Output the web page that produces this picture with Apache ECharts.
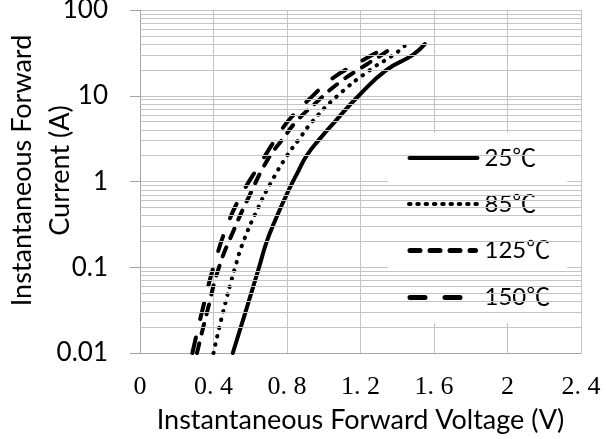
<!DOCTYPE html>
<html><head><meta charset="utf-8">
<script src="https://cdn.jsdelivr.net/npm/echarts@6/dist/echarts.min.js"></script>
<style>html,body{margin:0;padding:0;background:#fff}#c{width:606px;height:439px}</style>
</head><body><div id="c"></div><script>
// Series names (legend)
const seriesNames = ['25℃', '85℃', '125℃', '150℃'];
// 25℃ : forward voltage (V) and current (A)
const v25  = [0.505, 0.574, 0.648, 0.69, 0.74, 0.80, 0.86, 0.907, 0.976, 1.061, 1.19, 1.342, 1.485, 1.55];
const i25  = [0.01, 0.03, 0.1, 0.2, 0.37, 0.72, 1.3, 2, 3.1, 5, 10, 20, 30, 40];
// 85℃
const v85  = [0.40, 0.452, 0.518, 0.563, 0.644, 0.716, 0.80, 0.86, 0.938, 1.075, 1.252, 1.38, 1.44];
const i85  = [0.01, 0.03, 0.1, 0.2, 0.5, 1, 2, 3, 5, 10, 20, 30, 38];
// 125℃
const v125 = [0.31, 0.365, 0.43, 0.51, 0.595, 0.695, 0.78, 0.85, 0.955, 1.08, 1.23, 1.36, 1.38];
const i125 = [0.01, 0.03, 0.1, 0.27, 0.68, 1.8, 3.2, 5, 8.2, 14, 23, 35, 40];
// 150℃
const v150 = [0.285, 0.337, 0.40, 0.48, 0.56, 0.645, 0.76, 0.82, 0.93, 1.04, 1.2, 1.33, 1.36];
const i150 = [0.01, 0.03, 0.1, 0.33, 0.75, 1.5, 3.7, 5.5, 9.5, 15.5, 25, 36, 40];
// Axis ticks
const xTicks = [0, 0.4, 0.8, 1.2, 1.6, 2.0, 2.4];
const yTicks = [0.01, 0.1, 1, 10, 100];
// Minor horizontal gridlines (2..9 of each decade)
const minorGrid = [0.02,0.03,0.04,0.05,0.06,0.07,0.08,0.09,
                   0.2,0.3,0.4,0.5,0.6,0.7,0.8,0.9,
                   2,3,4,5,6,7,8,9,
                   20,30,40,50,60,70,80,90];

const zip = (a, b) => a.map((x, k) => [x, b[k]]);
const dashes = ['solid', [0.5, 8], [10, 10], [16, 19]];
const curves = [zip(v25, i25), zip(v85, i85), zip(v125, i125), zip(v150, i150)];

// Legend icon shapes: stroked segments in a 72 x 24 box (first two moveTo anchor the box)
const box = 'M0,0M72,24';
const seg = (a, b) => `M${a},12L${b},12`;
const legendIcons = [
  'path://' + box + seg(2, 70),
  'path://' + box + [1.5, 9.8, 18.1, 26.4, 34.7, 43, 51.3, 59.6, 67.9].map(x => seg(x, x + 1.5)).join(''),
  'path://' + box + seg(2.5, 12.5) + seg(22.5, 32.5) + seg(42.5, 52.5) + seg(62.5, 68),
  'path://' + box + seg(2.5, 17.5) + seg(37.5, 52.5)
];
const legendWidths = [4, 4, 5, 5];

const sans = 'Lato, "Noto Sans CJK SC", sans-serif';
const serif = '"Liberation Serif", "DejaVu Serif", serif';
const gridColor = '#c4c4c4';

const chart = echarts.init(document.getElementById('c'));
const series = curves.map((d, k) => ({
  name: seriesNames[k],
  type: 'line',
  data: d,
  symbol: 'none',
  showSymbol: false,
  smooth: 0.5,
  z: 3,
  color: '#000',
  itemStyle: { color: '#000' },
  lineStyle: { color: '#000', width: 4, type: dashes[k], cap: 'round' }
}));
series.push({
  name: 'minor',
  type: 'line',
  data: [],
  z: 1,
  silent: true,
  markLine: {
    silent: true,
    symbol: ['none', 'none'],
    label: { show: false },
    lineStyle: { color: gridColor, width: 1, type: 'solid' },
    data: minorGrid.map(v => ({ yAxis: v }))
  }
});

chart.setOption({
  animation: false,
  backgroundColor: '#fff',
  grid: { left: 140, right: 25, top: 10, bottom: 86, outerBoundsMode: 'none', containLabel: false },
  legend: {
    data: seriesNames.map((n, k) => ({
      name: n,
      icon: legendIcons[k],
      itemStyle: { color: '#000', borderColor: '#000', borderWidth: legendWidths[k], borderCap: 'round', borderType: 'solid' }
    })),
    orient: 'vertical',
    left: 388,
    top: 133,
    backgroundColor: '#fff',
    padding: [11, 17, 11, 17],
    itemGap: 18,
    itemWidth: 72,
    itemHeight: 24,
    textStyle: { fontFamily: sans, fontSize: 24, color: '#000' }
  },
  xAxis: {
    type: 'value',
    min: xTicks[0],
    max: xTicks[xTicks.length - 1],
    interval: 0.4,
    name: 'Instantaneous Forward Voltage (V)',
    nameLocation: 'middle',
    nameMoveOverlap: false,
    nameGap: 54,
    nameTextStyle: { fontFamily: sans, fontSize: 27, color: '#000' },
    axisLine: { lineStyle: { color: '#a6a6a6', width: 1 } },
    axisTick: { show: false },
    splitLine: { show: true, lineStyle: { color: gridColor, width: 1 } },
    axisLabel: {
      margin: 21,
      fontFamily: serif,
      fontSize: 26,
      color: '#000',
      formatter: v => {
        const r = Math.round(v * 10) / 10;
        return Number.isInteger(r) ? String(r) : String(r).replace('.', '. ');
      }
    }
  },
  yAxis: {
    type: 'log',
    logBase: 10,
    min: yTicks[0],
    max: yTicks[yTicks.length - 1],
    name: 'Instantaneous Forward\nCurrent (A)',
    nameLocation: 'middle',
    nameMoveOverlap: false,
    nameGap: 61,
    nameTextStyle: { fontFamily: sans, fontSize: 27, color: '#000', lineHeight: 38, padding: [0, 0, 0, 22] },
    axisLine: { show: true, lineStyle: { color: '#a6a6a6', width: 1 } },
    axisTick: { show: true, length: 10, lineStyle: { color: '#a6a6a6' } },
    splitLine: { show: true, lineStyle: { color: gridColor, width: 1 } },
    axisLabel: {
      margin: 32,
      fontFamily: sans,
      fontSize: 26,
      color: '#000',
      formatter: v => String(v)
    }
  },
  series: series
});
</script></body></html>
